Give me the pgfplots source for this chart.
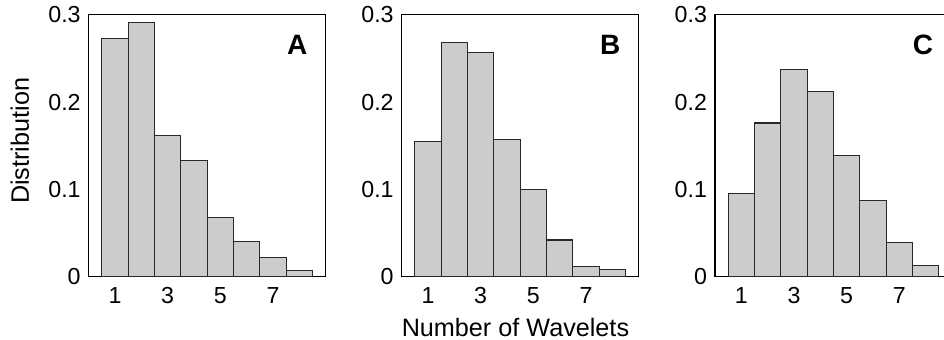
\documentclass[border=0pt]{standalone}
\usepackage{fontspec}
\setmainfont{Liberation Sans}
\usepackage{pgfplots}
\pgfplotsset{compat=1.18}
\definecolor{barfill}{RGB}{204,204,204}
\definecolor{bardraw}{RGB}{40,40,40}
\tikzset{letter/.style={font=\bfseries\fontsize{14}{16}\selectfont, anchor=center},
  bars/.style={fill=barfill, draw=bardraw, line width=0.55pt}}
\begin{document}
\begin{tikzpicture}
\pgfplotsset{
 panel/.style={
  scale only axis, width=118.5pt, height=131pt, anchor=south west,
  xmin=0, xmax=9, ymin=0, ymax=0.3,
  xtick={1,3,5,7}, ytick={0,0.1,0.2,0.3}, yticklabels={0,0.1,0.2,0.3},
  major tick length=0pt,
  axis line style={line width=0.6pt},
  every tick label/.append style={font=\fontsize{11.6}{13}\selectfont},
  /pgf/number format/assume math mode=true,
  xticklabel style={anchor=base, yshift=-13.3pt},
  yticklabel style={xshift=-0.5pt},
  ybar, bar width=1, bar shift=0pt,
  label style={font=\fontsize{12.6}{15}\selectfont},
 },
}
\begin{axis}[panel, at={(44.35pt,31.65pt)},
  ylabel={Distribution},
  ylabel style={at={(axis description cs:-0.29,0.518)}, anchor=center}]
\addplot[bars] coordinates {(1,0.273) (2,0.291) (3,0.162) (4,0.133) (5,0.068) (6,0.040) (7,0.022) (8,0.007)};
\node[letter] at (rel axis cs:0.88,0.886) {A};
\end{axis}
\begin{axis}[panel, at={(200.85pt,31.65pt)},
  xlabel={Number of Wavelets},
  xlabel style={at={(axis description cs:0.48,-0.194)}, anchor=center}]
\addplot[bars] coordinates {(1,0.155) (2,0.268) (3,0.257) (4,0.157) (5,0.100) (6,0.042) (7,0.012) (8,0.008)};
\node[letter] at (rel axis cs:0.88,0.886) {B};
\end{axis}
\begin{axis}[panel, at={(357.5pt,31.65pt)}]
\addplot[bars] coordinates {(1,0.095) (2,0.176) (3,0.237) (4,0.212) (5,0.139) (6,0.087) (7,0.039) (8,0.013)};
\node[letter] at (rel axis cs:0.878,0.886) {C};
\end{axis}
\pgfresetboundingbox
\useasboundingbox (0,0) rectangle (472pt,170pt);
\end{tikzpicture}
\end{document}
